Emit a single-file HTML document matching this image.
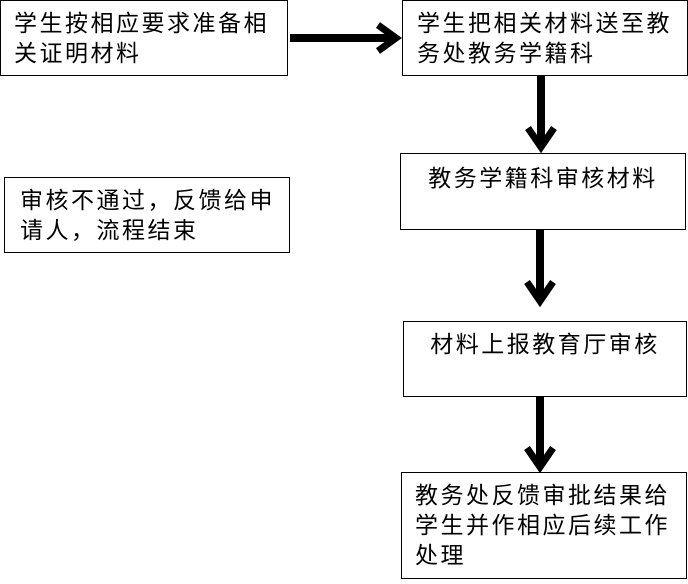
<!DOCTYPE html>
<html><head><meta charset="utf-8"><style>
body{margin:0;width:688px;height:584px;background:#fff;position:relative;overflow:hidden;font-family:"Liberation Sans","Noto Sans CJK SC",sans-serif;}
.b{position:absolute;border:1.5px solid #000;box-sizing:border-box;font-size:23px;letter-spacing:2.5px;line-height:30px;color:#000;white-space:nowrap;}
</style></head><body>
<div class="b" style="left:0;top:0;width:288px;height:76px;padding:7px 0 0 13px;">学生按相应要求准备相<br>关证明材料</div>
<div class="b" style="left:402px;top:0;width:286px;height:76px;padding:7px 0 0 14px;">学生把相关材料送至教<br>务处教务学籍科</div>
<div class="b" style="left:400px;top:153px;width:286px;height:77px;padding:9px 0 0 0;text-align:center;">教务学籍科审核材料</div>
<div class="b" style="left:4px;top:177px;width:286px;height:76px;padding:7px 0 0 15px;">审核不通过，反馈给申<br>请人，流程结束</div>
<div class="b" style="left:403px;top:321px;width:284px;height:76px;padding:7px 0 0 0;text-align:center;">材料上报教育厅审核</div>
<div class="b" style="left:401px;top:472px;width:286px;height:107px;padding:7px 0 0 13px;">教务处反馈审批结果给<br>学生并作相应后续工作<br>处理</div>
<svg width="688" height="584" style="position:absolute;left:0;top:0" fill="none" stroke="#000" stroke-width="8">
<line x1="290" y1="38" x2="395" y2="38"/><polyline points="378,25 396,38 378,51" stroke-width="7"/>
<line x1="541" y1="76" x2="541" y2="146"/><polyline points="528,128 541,147 554,128" stroke-width="7"/>
<line x1="540" y1="230" x2="540" y2="300"/><polyline points="527,282 540,301 553,282" stroke-width="7"/>
<line x1="540" y1="397" x2="540" y2="466"/><polyline points="527,448 540,467 553,448" stroke-width="7"/>
</svg>
</body></html>
